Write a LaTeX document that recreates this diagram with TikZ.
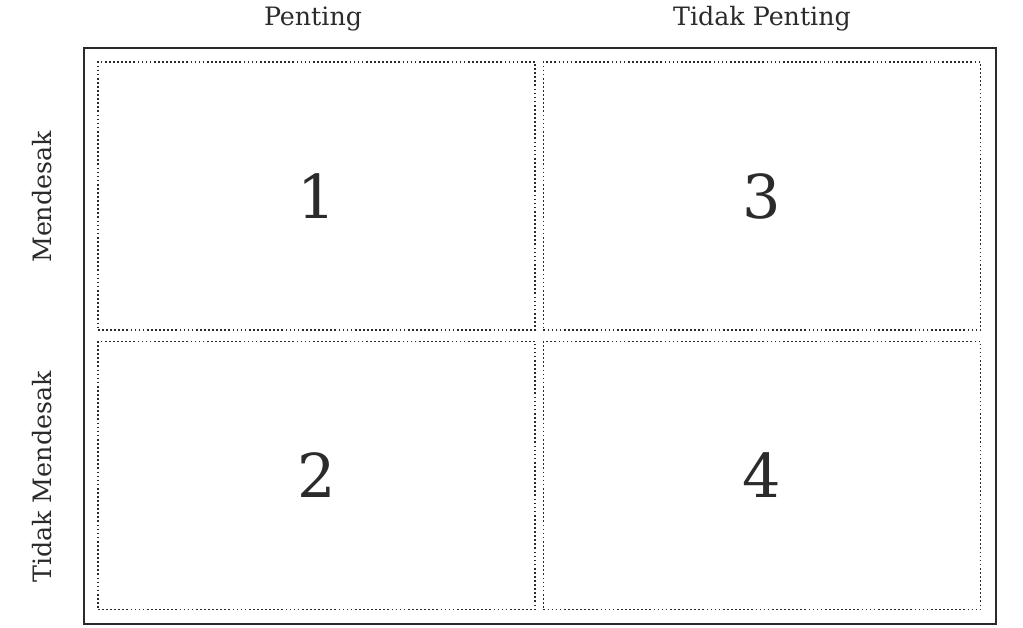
\documentclass[tikz,border=0pt]{standalone}
\usepackage{fontspec}
\setmainfont{DejaVu Serif}
\usepackage{xcolor}
\usetikzlibrary{positioning}
\definecolor{ink}{HTML}{2B2B2B}

\begin{document}
\begin{tikzpicture}[x=0.025cm,y=-0.025cm,text=ink,
  cell/.style={draw=ink,line width=1.2pt,dash pattern=on 1.2pt off 1.7pt,minimum width=10.925cm,minimum height=6.7cm,inner sep=0pt,font=\fontsize{43}{43}\selectfont},
  head/.style={font=\fontsize{18}{18}\selectfont,inner sep=0pt}]
\useasboundingbox (0,0) rectangle (1023,627);
\draw[ink,line width=1.1pt] (84,48) rectangle (996,624);
% quadrants
\node[cell] (q1) at (316.5,196) {1};
\node[cell] (q3) at (762,196) {3};
\node[cell] (q2) at (316.5,475.5) {2};
\node[cell] (q4) at (762,475.5) {4};
% axis labels
\node[head] (pen) at (313,19) {Penting};
\node[head] (tpen) at (762,19) {Tidak Penting};
\node[head,rotate=90] (men) at (42,197) {Mendesak};
\node[head,rotate=90] (tmen) at (42,477) {Tidak Mendesak};
\end{tikzpicture}
\end{document}
